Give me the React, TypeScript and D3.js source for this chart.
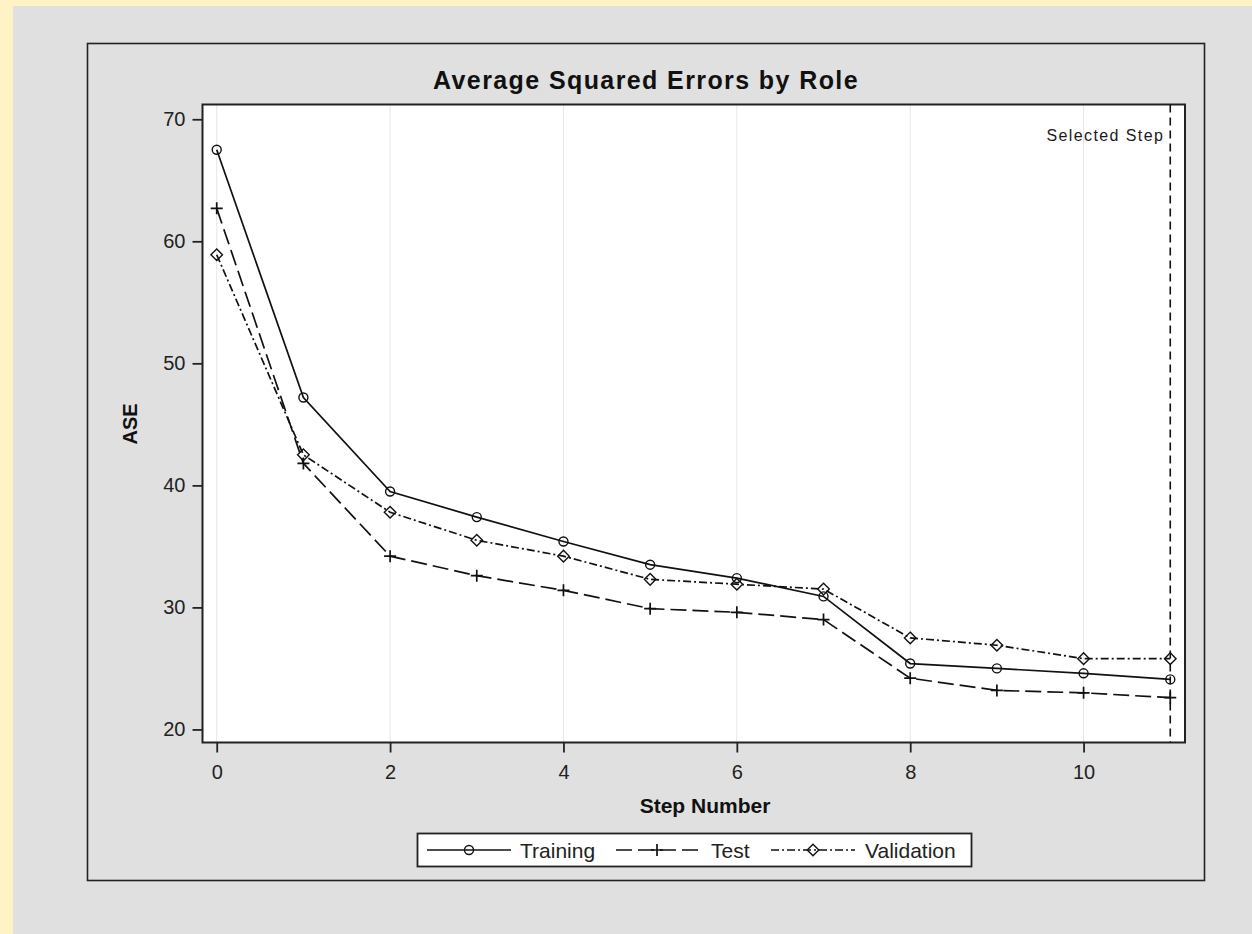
import React, {useEffect, useRef} from 'react'
import * as d3 from 'd3'

const steps = [0, 1, 2, 3, 4, 5, 6, 7, 8, 9, 10, 11];
const training = [67.5, 47.2, 39.5, 37.4, 35.4, 33.5, 32.4, 30.9, 25.4, 25.0, 24.6, 24.1];
const test = [62.7, 41.8, 34.2, 32.6, 31.4, 29.9, 29.6, 29.0, 24.2, 23.2, 23.0, 22.6];
const validation = [58.9, 42.5, 37.8, 35.5, 34.2, 32.3, 31.9, 31.5, 27.5, 26.9, 25.8, 25.8];
const xTicks = [0, 2, 4, 6, 8, 10];
const yTicks = [20, 30, 40, 50, 60, 70];
const selectedStep = 11;

const FONT = "'Liberation Sans', Arial, sans-serif";

export default function App() {
  const ref = useRef<SVGSVGElement>(null);

  useEffect(() => {
    const svg = d3.select(ref.current);
    svg.selectAll("*").remove();

    // page background: yellow strip and gray panel
    svg.append("rect").attr("width", 1252).attr("height", 934).attr("fill", "#fff2c4");
    svg.append("rect").attr("x", 13).attr("y", 6).attr("width", 1239).attr("height", 928).attr("fill", "#e0e0e0");

    // outer frame
    svg.append("rect")
      .attr("x", 87.5).attr("y", 43.5).attr("width", 1117).attr("height", 837)
      .attr("fill", "none").attr("stroke", "#222").attr("stroke-width", 1.6);

    const plot = {left: 202.5, top: 104.5, right: 1185, bottom: 742.5};

    let x = d3.scaleLinear().domain([-0.164, 11.17]).range([plot.left, plot.right]);
    let y = d3.scaleLinear().domain([18.93, 71.21]).range([plot.bottom, plot.top]);

    // plot area
    svg.append("rect")
      .attr("x", plot.left).attr("y", plot.top)
      .attr("width", plot.right - plot.left).attr("height", plot.bottom - plot.top)
      .attr("fill", "#fff");

    // vertical grid lines
    svg.append("g").selectAll("line")
      .data(xTicks)
      .enter().append("line")
      .attr("x1", d => x(d)).attr("x2", d => x(d))
      .attr("y1", plot.top).attr("y2", plot.bottom)
      .attr("stroke", "#e6e6e6").attr("stroke-width", 1);

    // x axis
    let xAxis = svg.append("g")
      .attr("transform", "translate(0," + plot.bottom + ")")
      .call(d3.axisBottom(x).tickValues(xTicks).tickSize(10).tickPadding(12).tickFormat(d3.format("d")));
    xAxis.select(".domain").remove();

    // y axis
    let yAxis = svg.append("g")
      .attr("transform", "translate(" + plot.left + ",0)")
      .call(d3.axisLeft(y).tickValues(yTicks).tickSize(10).tickPadding(7).tickFormat(d3.format("d")));
    yAxis.select(".domain").remove();

    svg.selectAll(".tick line").attr("stroke", "#222").attr("stroke-width", 1.8);
    svg.selectAll(".tick text")
      .attr("font-family", FONT).attr("font-size", 20).attr("fill", "#222");

    // plot frame
    svg.append("rect")
      .attr("x", plot.left).attr("y", plot.top)
      .attr("width", plot.right - plot.left).attr("height", plot.bottom - plot.top)
      .attr("fill", "none").attr("stroke", "#222").attr("stroke-width", 2);

    // selected step reference line
    svg.append("line")
      .attr("x1", x(selectedStep)).attr("x2", x(selectedStep))
      .attr("y1", plot.top).attr("y2", plot.bottom)
      .attr("stroke", "#111").attr("stroke-width", 1.6).attr("stroke-dasharray", "8,5");
    svg.append("text")
      .attr("x", x(selectedStep) - 6).attr("y", 141)
      .attr("text-anchor", "end")
      .attr("font-family", FONT).attr("font-size", 16).attr("letter-spacing", 1.4)
      .attr("fill", "#1a1a1a")
      .text("Selected Step");

    const series = [
      {name: "Training", values: training, dash: null, marker: "circle"},
      {name: "Test", values: test, dash: "16,6", marker: "plus"},
      {name: "Validation", values: validation, dash: "8,3,2,3", marker: "diamond"},
    ];

    const line = d3.line<number>()
      .x((d, i) => x(steps[i]))
      .y(d => y(d));

    const drawMarker = (g, kind, cx, cy) => {
      if (kind === "circle") {
        g.append("circle").attr("cx", cx).attr("cy", cy).attr("r", 4.5)
          .attr("fill", "none").attr("stroke", "#111").attr("stroke-width", 1.4);
      } else if (kind === "plus") {
        g.append("path").attr("d", `M${cx - 6},${cy}H${cx + 6}M${cx},${cy - 6}V${cy + 6}`)
          .attr("stroke", "#111").attr("stroke-width", 1.7);
      } else {
        g.append("path").attr("d", `M${cx},${cy - 5.8}L${cx + 5.8},${cy}L${cx},${cy + 5.8}L${cx - 5.8},${cy}Z`)
          .attr("fill", "none").attr("stroke", "#111").attr("stroke-width", 1.4);
      }
    };

    series.forEach(s => {
      svg.append("path")
        .datum(s.values)
        .attr("d", line)
        .attr("fill", "none").attr("stroke", "#111").attr("stroke-width", 1.7)
        .attr("stroke-dasharray", s.dash);
      let mg = svg.append("g");
      s.values.forEach((v, i) => drawMarker(mg, s.marker, x(steps[i]), y(v)));
    });

    // title and axis labels
    svg.append("text")
      .attr("x", 646).attr("y", 89)
      .attr("text-anchor", "middle")
      .attr("font-family", FONT).attr("font-size", 25).attr("font-weight", "bold")
      .attr("letter-spacing", 1.4).attr("fill", "#111")
      .text("Average Squared Errors by Role");
    svg.append("text")
      .attr("transform", "translate(137,424) rotate(-90)")
      .attr("text-anchor", "middle")
      .attr("font-family", FONT).attr("font-size", 20).attr("font-weight", "bold").attr("fill", "#111")
      .text("ASE");
    svg.append("text")
      .attr("x", 705).attr("y", 813)
      .attr("text-anchor", "middle")
      .attr("font-family", FONT).attr("font-size", 21).attr("font-weight", "bold").attr("fill", "#111")
      .text("Step Number");

    // legend
    let legend = svg.append("g");
    legend.append("rect")
      .attr("x", 417.5).attr("y", 833.5).attr("width", 554).attr("height", 33)
      .attr("fill", "#fff").attr("stroke", "#222").attr("stroke-width", 1.8);
    const legendPos = [{x1: 427, x2: 511, tx: 520}, {x1: 616, x2: 698, tx: 711}, {x1: 771, x2: 855, tx: 865}];
    series.forEach((s, i) => {
      const p = legendPos[i];
      legend.append("line")
        .attr("x1", p.x1).attr("x2", p.x2).attr("y1", 850).attr("y2", 850)
        .attr("stroke", "#111").attr("stroke-width", 1.7).attr("stroke-dasharray", s.dash);
      drawMarker(legend, s.marker, (p.x1 + p.x2) / 2, 850);
      legend.append("text")
        .attr("x", p.tx).attr("y", 857.5)
        .attr("font-family", FONT).attr("font-size", 21).attr("fill", "#222")
        .text(s.name);
    });
  }, []);

  return (
    <svg ref={ref} width={1252} height={934} style={{position: 'absolute', left: 0, top: 0}}/>
  )
}
